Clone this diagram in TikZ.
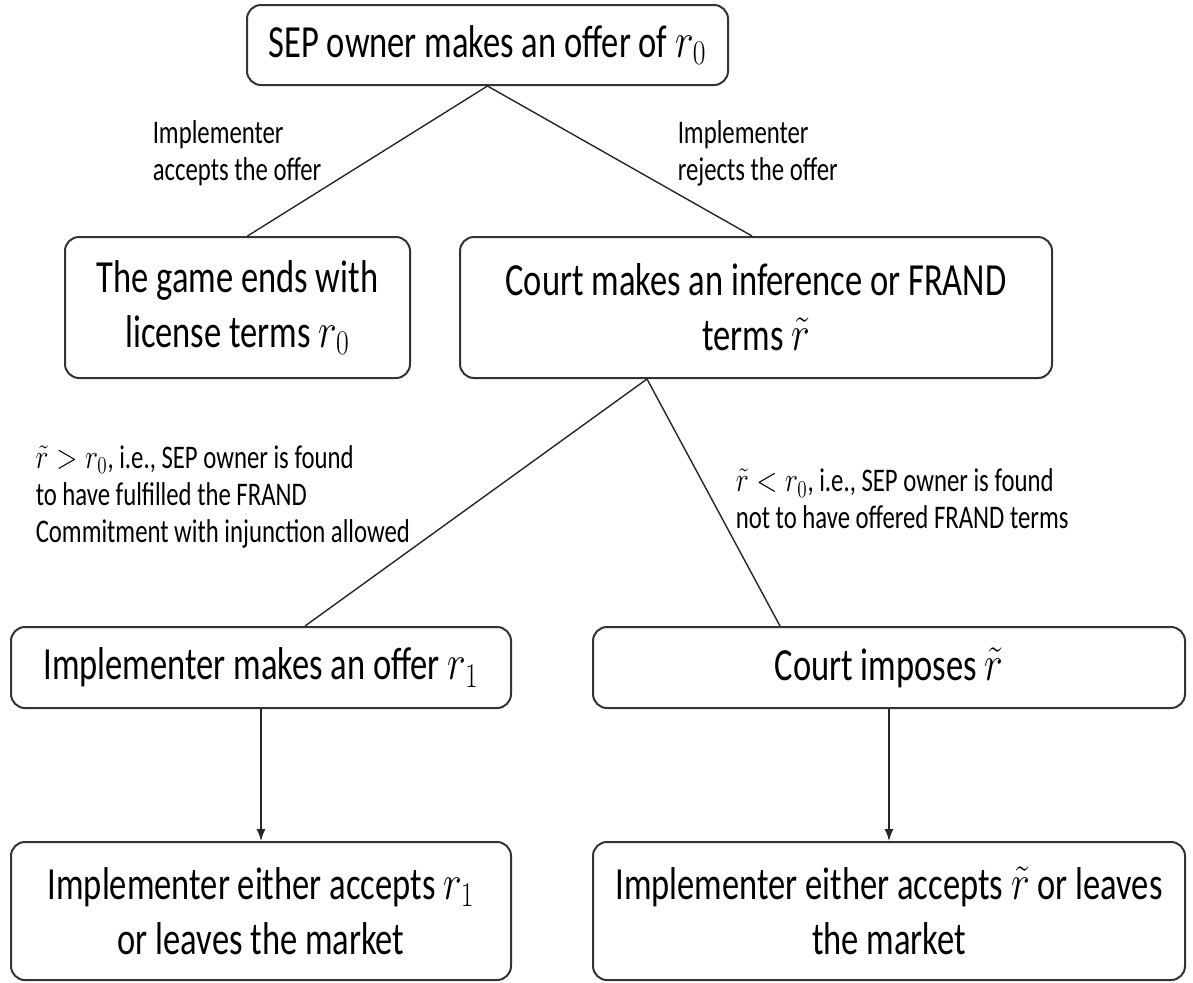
\documentclass[tikz,border=0pt]{standalone}
\usepackage{fontspec}
\setmainfont{Carlito}[FakeStretch=0.75]
\usetikzlibrary{arrows.meta, positioning, calc}
\newcommand{\narrow}[1]{\scalebox{0.8}[1]{$#1$}}
\tikzset{
  every picture/.style={line width=0.75pt},
  box/.style={draw=black!80, line width=1pt, rounded corners=7pt, align=center, inner sep=0pt, font=\fontsize{23}{27.5}\selectfont},
  note/.style={anchor=west, align=left, inner sep=0pt, font=\fontsize{16.5}{18.5}\selectfont},
  link/.style={draw=black!85, line width=0.7pt},
  arrow/.style={-{Latex[length=6pt, width=4.5pt]}, draw=black!85, line width=0.7pt},
}

\begin{document}
\begin{tikzpicture}[x=0.5pt, y=-0.5pt]
  \useasboundingbox (0,0) rectangle (1193,982);
  % stages of the game
  \node[box, minimum width=240.5pt, minimum height=40pt] (offer0) at (487.5,45) {SEP owner makes an offer of \narrow{r_0}};
  \node[box, minimum width=172.5pt, minimum height=70.5pt] (ends) at (237.5,307.5) {The game ends with\\license terms \narrow{r_0}};
  \node[box, minimum width=296pt, minimum height=70.5pt] (court) at (756,307.5) {Court makes an inference or FRAND\\terms \narrow{\tilde{r}}};
  \node[box, minimum width=250pt, minimum height=40.5pt] (offer1) at (261,667.5) {Implementer makes an offer \narrow{r_1}};
  \node[box, minimum width=296pt, minimum height=40.5pt] (imposes) at (889,667.5) {Court imposes \narrow{\tilde{r}}};
  \node[box, minimum width=250pt, minimum height=69pt] (leave1) at (261,911) {Implementer either accepts \narrow{r_1}\\or leaves the market};
  \node[box, minimum width=296pt, minimum height=69pt] (leave2) at (889,911) {Implementer either accepts \narrow{\tilde{r}} or leaves\\the market};
  % branches
  \draw[link] (offer0.south) -- ([xshift=5pt]ends.north);
  \draw[link] (offer0.south) -- ([xshift=-2pt]court.north);
  \coordinate (split) at ([xshift=-54.5pt]court.south);
  \draw[link] (split) -- ([xshift=22pt]offer1.north);
  \draw[link] (split) -- ([xshift=-54.5pt]imposes.north);
  \draw[arrow] (offer1.south) -- (leave1.north);
  \draw[arrow] (imposes.south) -- (leave2.north);
  % branch labels
  \node[note] (accept) at (152,153.5) {Implementer\\accepts the offer};
  \node[note] (reject) at (677,153.5) {Implementer\\rejects the offer};
  \node[note] (high) at (35,497) {\narrow{\tilde{r} > r_0}, i.e., SEP owner is found\\to have fulfilled the FRAND\\Commitment with injunction allowed};
  \node[note] (low) at (735,499) {\narrow{\tilde{r} < r_0}, i.e., SEP owner is found\\not to have offered FRAND terms};
\end{tikzpicture}
\end{document}
